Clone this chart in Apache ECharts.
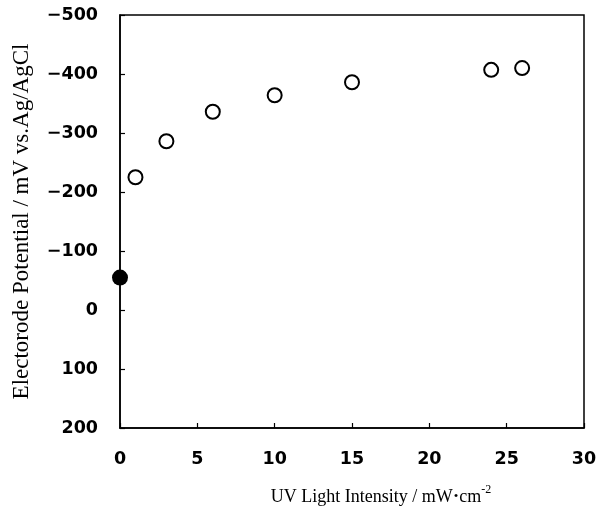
<!DOCTYPE html>
<html><head><meta charset="utf-8">
<script src="https://cdn.jsdelivr.net/npm/echarts@6/dist/echarts.min.js"></script>
<style>html,body{margin:0;padding:0;background:#fff}#c{width:600px;height:513px}</style>
</head><body><div id="c"></div>
<script>
const darkX = [0];
const darkY = [-55];
const uvX = [1, 3, 6, 10, 15, 24, 26];
const uvY = [-225, -286, -336, -364, -386, -407, -410];
const xTicks = [0, 5, 10, 15, 20, 25, 30];
const yTicks = [-500, -400, -300, -200, -100, 0, 100, 200];

const chart = echarts.init(document.getElementById('c'));
const tickFont = {fontFamily: 'DejaVu Sans, sans-serif', fontWeight: 'bold', fontSize: 17.5, color: '#000'};
const serif = 'Liberation Serif, Times New Roman, serif';
chart.setOption({
  animation: false,
  backgroundColor: '#fff',
  grid: {left: 120, right: 16, top: 15, bottom: 85, containLabel: false, outerBoundsMode: 'none',
         show: true, borderColor: '#000', borderWidth: 1.5, backgroundColor: 'transparent'},
  xAxis: {
    type: 'value', min: xTicks[0], max: xTicks[xTicks.length-1], interval: 5,
    name: '{t|UV Light Intensity / mW}{d|•}{t|cm}{s|-2}', nameLocation: 'middle', nameGap: 56,
    nameTextStyle: {padding: [0, 0, 0, 58], rich: {
      t: {fontFamily: serif, fontSize: 18, color: '#000', verticalAlign: 'bottom'},
      d: {fontFamily: serif, fontSize: 13, color: '#000', verticalAlign: 'bottom', padding: [0, 1, 3, 1]},
      s: {fontFamily: serif, fontSize: 12, color: '#000', verticalAlign: 'top', padding: [0, 0, 10, 0]}
    }},
    axisLine: {onZero: false, lineStyle: {color: '#000', width: 1.5}},
    axisTick: {inside: true, length: 5, lineStyle: {color: '#000', width: 1.2}},
    axisLabel: Object.assign({margin: 22}, tickFont),
    splitLine: {show: false}
  },
  yAxis: {
    type: 'value', inverse: true, min: yTicks[0], max: yTicks[yTicks.length-1], interval: 100,
    name: 'Electorode Potential / mV vs.Ag/AgCl', nameLocation: 'middle', nameGap: 87, nameRotate: 90,
    nameTextStyle: {fontFamily: serif, fontSize: 23, color: '#000'},
    axisLine: {onZero: false, lineStyle: {color: '#000', width: 1.5}},
    axisTick: {inside: true, length: 5, lineStyle: {color: '#000', width: 1.2}},
    axisLabel: Object.assign({margin: 22, formatter: v => String(v).replace('-', '\u2212')}, tickFont),
    splitLine: {show: false}
  },
  series: [
    {type: 'scatter', data: darkX.map((x,i) => [x, darkY[i]]), symbol: 'circle', symbolSize: 16,
     itemStyle: {color: '#000', opacity: 1}, clip: false, z: 5},
    {type: 'scatter', data: uvX.map((x,i) => [x, uvY[i]]), symbol: 'circle', symbolSize: 14,
     itemStyle: {color: '#fff', borderColor: '#000', borderWidth: 2, opacity: 1}, clip: false, z: 5}
  ]
});
</script></body></html>
